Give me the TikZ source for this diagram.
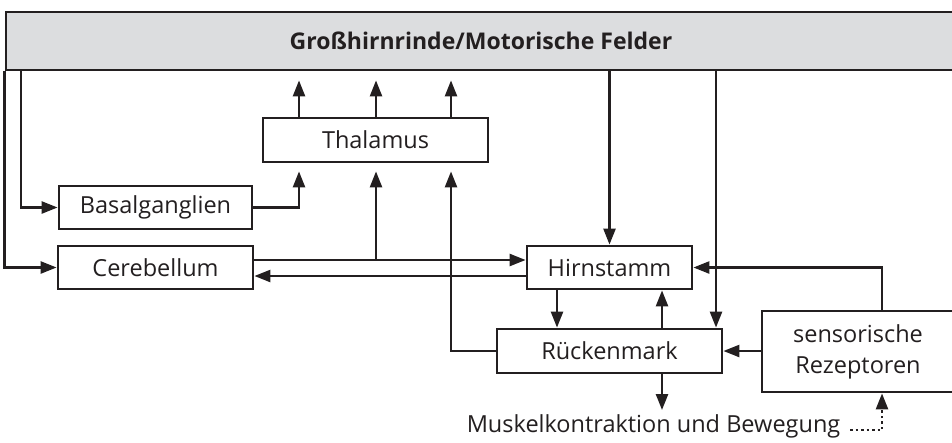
\documentclass[tikz,border=0pt]{standalone}
\usepackage{fontspec}
\setmainfont{Open Sans}
\usetikzlibrary{arrows.meta}
\definecolor{barg}{RGB}{220,221,223}
\definecolor{ink}{RGB}{35,31,32}
\begin{document}
\begin{tikzpicture}[x=1pt,y=-1pt,
  box/.style={draw=ink, line width=2.8pt, fill=white, inner sep=0pt, text=ink,
    font=\fontsize{23.5}{31}\selectfont},
  arr/.style={draw=ink, line width=2.5pt, -{Triangle[length=16pt,width=12pt]}}]
\useasboundingbox (0,0) rectangle (952,442);
% nodes
\node[draw=ink, fill=barg, line width=2.8pt, minimum width=950pt, minimum height=58pt, inner sep=0pt,
  font=\fontsize{23}{24}\selectfont\bfseries, text=ink] (bar) at (481,41) {Großhirnrinde/Motorische Felder};
\node[box, minimum width=225pt, minimum height=44pt] (thal) at (375.5,140) {Thalamus};
\node[box, minimum width=193pt, minimum height=43pt] (basal) at (155.5,207.5) {Basalganglien};
\node[box, minimum width=195pt, minimum height=43pt] (cereb) at (155.5,267.5) {Cerebellum};
\node[box, minimum width=165pt, minimum height=43pt] (hirn) at (609.5,267.5) {Hirnstamm};
\node[box, minimum width=225pt, minimum height=44pt] (rueck) at (609.5,351) {Rückenmark};
\node[box, minimum width=192pt, minimum height=81pt, align=center] (sens) at (858,351.5) {sensorische\\Rezeptoren};
\node[anchor=base, inner sep=0pt, text=ink, font=\fontsize{23.5}{24}\selectfont] (musk) at (653.5,432) {Muskelkontraktion und Bewegung};
% helper coordinates
\coordinate (xl) at (21,0);
\coordinate (xa) at (299,0);
\coordinate (xb) at (376,0);
\coordinate (xc) at (451,0);
\coordinate (xd) at (557,0);
\coordinate (xf) at (662,0);
\coordinate (xg) at (716,0);
\coordinate (xh) at (882,0);
\coordinate (yu) at (0,260);
\coordinate (yl) at (0,276);
\coordinate (mend) at (662,410);
\coordinate (dstart) at (850,430);
\coordinate (dcorner) at (882,430);
% connectors
\draw[arr] (bar.south -| xl) |- (basal.west);
\draw[arr] (bar.south west) |- (cereb.west);
\draw[arr, shorten >=8pt] (basal.east) -| (thal.south -| xa);
\foreach \c in {xa,xb,xc}
  \draw[arr, shorten >=9pt] (thal.north -| \c) -- (bar.south -| \c);
\draw[arr] (cereb.east |- yu) -- (hirn.west |- yu);
\draw[arr] (hirn.west |- yl) -- (cereb.east |- yl);
\draw[arr, shorten >=8pt] (xb |- yu) -- (thal.south -| xb);
\draw[arr, shorten >=8pt] (rueck.west) -| (thal.south -| xc);
\draw[arr] (bar.south -| hirn.north) -- (hirn.north);
\draw[arr] (bar.south -| xg) -- (rueck.north -| xg);
\draw[arr] (hirn.south -| xd) -- (rueck.north -| xd);
\draw[arr] (rueck.north -| xf) -- (hirn.south -| xf);
\draw[arr] (sens.west |- rueck.east) -- (rueck.east);
\draw[arr] (sens.north -| xh) |- (hirn.east);
\draw[arr] (rueck.south -| xf) -- (mend);
\draw[arr, dash pattern=on 2.5pt off 3pt] (dstart) -- (dcorner) -- (sens.south -| xh);
\end{tikzpicture}
\end{document}
